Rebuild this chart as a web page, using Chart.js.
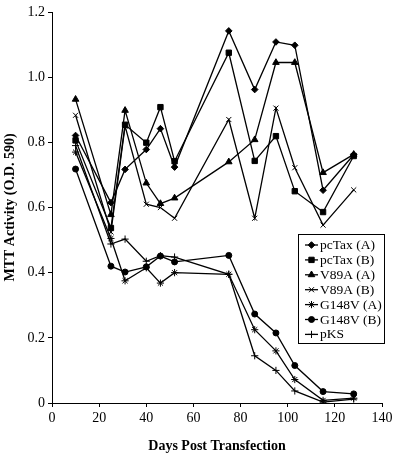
<!DOCTYPE html>
<html>
<head>
<meta charset="utf-8">
<script src="https://cdn.jsdelivr.net/npm/chart.js@4.4.1/dist/chart.umd.min.js"></script>
<style>
html,body{margin:0;padding:0;background:#fff;}
#wrap{width:400px;height:459px;position:relative;}
</style>
</head>
<body>
<div id="wrap"><canvas id="c" width="400" height="459"></canvas></div>
<script>
const days = [10, 25, 31, 40, 46, 52, 75, 86, 95, 103, 115, 128];
const seriesNames = ['pcTax (A)', 'pcTax (B)', 'V89A (A)', 'V89A (B)', 'G148V (A)', 'G148V (B)', 'pKS'];
const pcTaxA = [0.821, 0.615, 0.717, 0.778, 0.842, 0.724, 1.142, 0.962, 1.108, 1.098, 0.653, 0.762];
const pcTaxB = [0.806, 0.537, 0.854, 0.799, 0.908, 0.742, 1.075, 0.743, 0.819, 0.650, 0.586, 0.758];
const v89aA = [0.932, 0.578, 0.898, 0.675, 0.612, 0.629, 0.740, 0.808, 1.045, 1.045, 0.707, 0.763];
const v89aB = [0.883, 0.525, 0.850, 0.610, 0.600, 0.567, 0.870, 0.567, 0.905, 0.722, 0.546, 0.654];
const g148vA = [0.770, 0.505, 0.375, 0.415, 0.368, 0.400, 0.395, 0.225, 0.160, 0.072, 0.008, 0.015];
const g148vB = [0.718, 0.420, 0.402, 0.418, 0.451, 0.433, 0.453, 0.273, 0.215, 0.115, 0.035, 0.028];
const pKS = [0.790, 0.488, 0.503, 0.435, 0.452, 0.448, 0.395, 0.145, 0.100, 0.037, 0.003, 0.012];
const xTicks = [0, 20, 40, 60, 80, 100, 120, 140];
const yTicks = [0, 0.2, 0.4, 0.6, 0.8, 1, 1.2];

const allSeries = [pcTaxA, pcTaxB, v89aA, v89aB, g148vA, g148vB, pKS];
const styles = [
  {pointStyle: 'rectRot', radius: 3.3},
  {pointStyle: 'rect', radius: 3.8},
  {pointStyle: 'triangle', radius: 3.8},
  {pointStyle: 'crossRot', radius: 3.6},
  {pointStyle: 'star', radius: 3.6},
  {pointStyle: 'circle', radius: 3},
  {pointStyle: 'cross', radius: 3.6}
];

const datasets = allSeries.map((arr, i) => ({
  label: seriesNames[i],
  data: days.map((d, j) => ({x: d, y: arr[j]})),
  showLine: true,
  borderColor: '#000',
  backgroundColor: '#000',
  borderWidth: 1.3,
  pointBorderColor: '#000',
  pointBackgroundColor: '#000',
  pointBorderWidth: 1,
  pointStyle: styles[i].pointStyle,
  pointRadius: styles[i].radius,
  tension: 0
}));

const serif = "'Liberation Serif', 'DejaVu Serif', serif";

const legendBox = {
  id: 'legendBox',
  afterDraw(chart) {
    const ctx = chart.ctx;
    ctx.save();
    ctx.strokeStyle = '#000';
    ctx.lineWidth = 1;
    ctx.strokeRect(298.5, 234.5, 86, 109);
    ctx.font = "13.5px " + serif;
    ctx.textBaseline = 'middle';
    ctx.textAlign = 'left';
    chart.data.datasets.forEach((ds, i) => {
      const y = 245 + i * 14.9;
      ctx.strokeStyle = '#000';
      ctx.fillStyle = '#000';
      ctx.lineWidth = 1.3;
      ctx.beginPath();
      ctx.moveTo(305, y);
      ctx.lineTo(318, y);
      ctx.stroke();
      ctx.lineWidth = 1;
      Chart.helpers.drawPoint(ctx, {pointStyle: ds.pointStyle, radius: ds.pointRadius, rotation: 0, borderWidth: 1}, 311.5, y);
      ctx.fillStyle = '#000';
      ctx.fillText(ds.label, 320, y + 0.5);
    });
    ctx.restore();
  }
};

new Chart(document.getElementById('c'), {
  type: 'scatter',
  data: {datasets},
  options: {
    responsive: false,
    animation: false,
    devicePixelRatio: 1,
    layout: {padding: {left: 0, right: 18, top: 12, bottom: 0}},
    plugins: {legend: {display: false}, tooltip: {enabled: false}},
    scales: {
      x: {
        type: 'linear',
        min: 0, max: 140,
        afterBuildTicks: s => { s.ticks = xTicks.map(v => ({value: v})); },
        afterFit: s => { s.height = 56; },
        grid: {drawOnChartArea: false, color: '#000', tickLength: 4, lineWidth: 1},
        border: {color: '#000', width: 1},
        ticks: {color: '#000', font: {family: serif, size: 14}, padding: 3, maxRotation: 0},
        title: {display: true, text: 'Days Post Transfection', color: '#000', font: {family: serif, size: 14, weight: 'bold'}, padding: {top: 0, bottom: 4}}
      },
      y: {
        type: 'linear',
        min: 0, max: 1.2,
        afterBuildTicks: s => { s.ticks = yTicks.map(v => ({value: v})); },
        afterFit: s => { s.width = 52; },
        grid: {drawOnChartArea: false, color: '#000', tickLength: 4, lineWidth: 1},
        border: {color: '#000', width: 1},
        ticks: {color: '#000', font: {family: serif, size: 14}, padding: 3},
        title: {display: true, text: 'MTT Activity (O.D. 590)', color: '#000', font: {family: serif, size: 14, weight: 'bold'}, padding: {top: 2, bottom: 0}}
      }
    }
  },
  plugins: [legendBox]
});
</script>
</body>
</html>
